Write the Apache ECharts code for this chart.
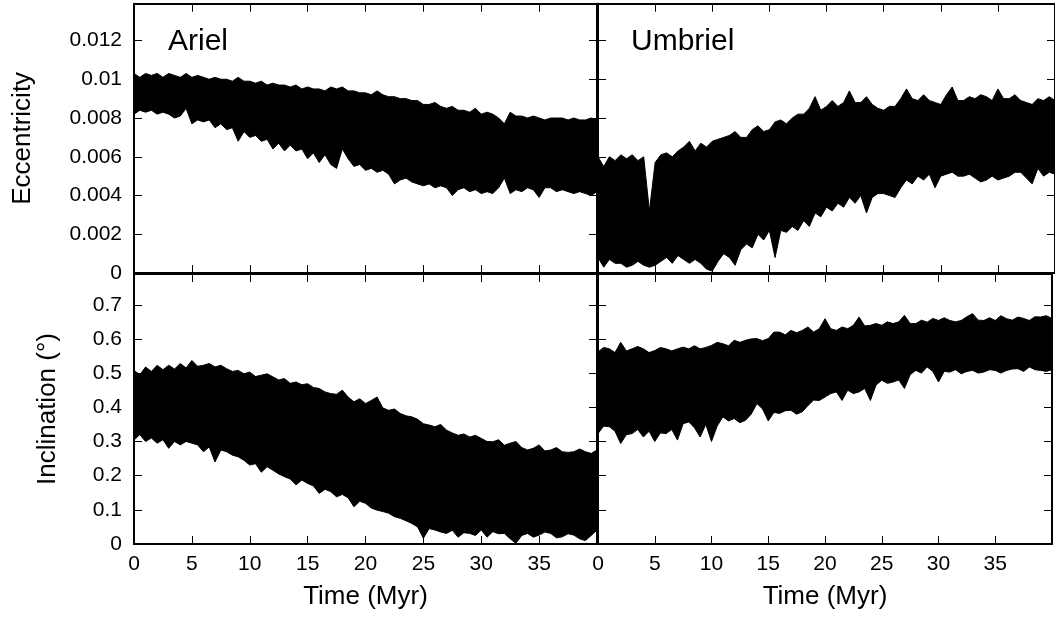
<!DOCTYPE html>
<html><head><meta charset="utf-8">
<script src="https://cdn.jsdelivr.net/npm/echarts@6/dist/echarts.min.js"></script>
<style>html,body{margin:0;padding:0;background:#fff}#c{width:1055px;height:617px}</style>
</head><body><div id="c"></div>
<script>
// Time samples (Myr)
const time = [0,0.5,1,1.5,2,2.5,3,3.5,4,4.5,5,5.5,6,6.5,7,7.5,8,8.5,9,9.5,
10,10.5,11,11.5,12,12.5,13,13.5,14,14.5,15,15.5,16,16.5,17,17.5,18,18.5,19,19.5,
20,20.5,21,21.5,22,22.5,23,23.5,24,24.5,25,25.5,26,26.5,27,27.5,28,28.5,29,29.5,
30,30.5,31,31.5,32,32.5,33,33.5,34,34.5,35,35.5,36,36.5,37,37.5,38,38.5,39,39.5,40];

// Upper / lower envelope of the oscillating signal
const arielEccHigh = [0.0103,0.0101,0.0103,0.0102,0.0103,0.0101,0.0103,0.0102,0.0101,0.0103,
0.0101,0.0102,0.0101,0.0100,0.0101,0.0100,0.0100,0.0099,0.0101,0.0099,
0.0099,0.0098,0.0099,0.0097,0.0098,0.0097,0.0097,0.0096,0.0097,0.0095,
0.0096,0.0095,0.0095,0.0094,0.0096,0.0095,0.0096,0.0094,0.0094,0.0093,
0.0093,0.0092,0.0094,0.0092,0.0091,0.0091,0.0090,0.0090,0.0089,0.0089,
0.0087,0.0087,0.0088,0.0086,0.0085,0.0086,0.0084,0.0084,0.0083,0.0085,
0.0082,0.0083,0.0082,0.0080,0.0077,0.0083,0.0081,0.0081,0.0080,0.0081,
0.0080,0.0079,0.0080,0.0080,0.0080,0.0079,0.0080,0.0079,0.0079,0.0080,0.0079];
const arielEccLow = [0.0082,0.0084,0.0083,0.0084,0.0082,0.0083,0.0082,0.0080,0.0081,0.0085,
0.0077,0.0079,0.0078,0.0079,0.0075,0.0077,0.0074,0.0075,0.0068,0.0073,
0.0070,0.0071,0.0068,0.0069,0.0064,0.0067,0.0063,0.0066,0.0063,0.0064,
0.0059,0.0062,0.0057,0.0061,0.0056,0.0054,0.0064,0.0059,0.0055,0.0056,
0.0053,0.0054,0.0052,0.0053,0.0051,0.0046,0.0048,0.0049,0.0047,0.0046,
0.0045,0.0046,0.0044,0.0045,0.0044,0.0040,0.0043,0.0044,0.0042,0.0043,
0.0041,0.0042,0.0041,0.0044,0.0049,0.0041,0.0043,0.0042,0.0044,0.0043,
0.0039,0.0044,0.0044,0.0042,0.0043,0.0042,0.0041,0.0042,0.0041,0.0040,0.0042];

const umbrielEccHigh = [0.0060,0.0055,0.0060,0.0058,0.0061,0.0059,0.0061,0.0058,0.0060,0.0032,
0.0057,0.0061,0.0062,0.0060,0.0063,0.0065,0.0068,0.0063,0.0067,0.0065,
0.0068,0.0069,0.0070,0.0071,0.0073,0.0070,0.0070,0.0074,0.0076,0.0073,
0.0074,0.0078,0.0079,0.0077,0.0080,0.0082,0.0082,0.0085,0.0091,0.0084,
0.0086,0.0089,0.0086,0.0088,0.0094,0.0088,0.0088,0.0091,0.0087,0.0085,
0.0084,0.0086,0.0086,0.0090,0.0095,0.0090,0.0089,0.0092,0.0089,0.0088,
0.0087,0.0092,0.0096,0.0089,0.0089,0.0091,0.0090,0.0092,0.0091,0.0089,
0.0095,0.0090,0.0090,0.0092,0.0089,0.0088,0.0087,0.0090,0.0089,0.0091,0.0089];
const umbrielEccLow = [0.0008,0.0003,0.0007,0.0005,0.0005,0.0003,0.0004,0.0006,0.0004,0.0003,
0.0004,0.0006,0.0008,0.0005,0.0009,0.0007,0.0005,0.0007,0.0005,0.0002,
0.0001,0.0006,0.0010,0.0008,0.0004,0.0012,0.0015,0.0013,0.0020,0.0017,
0.0022,0.0008,0.0022,0.0021,0.0024,0.0022,0.0027,0.0024,0.0031,0.0029,
0.0034,0.0032,0.0036,0.0034,0.0039,0.0036,0.0040,0.0031,0.0039,0.0041,
0.0041,0.0040,0.0039,0.0044,0.0048,0.0046,0.0050,0.0048,0.0051,0.0044,
0.0050,0.0051,0.0052,0.0050,0.0050,0.0051,0.0049,0.0047,0.0048,0.0050,
0.0048,0.0049,0.0050,0.0052,0.0052,0.0049,0.0046,0.0054,0.0050,0.0052,0.0051];

const arielIncHigh = [0.508,0.495,0.518,0.505,0.523,0.510,0.523,0.512,0.528,0.515,
0.537,0.520,0.523,0.528,0.518,0.523,0.513,0.505,0.508,0.498,
0.503,0.490,0.494,0.498,0.489,0.480,0.484,0.470,0.474,0.466,
0.469,0.458,0.455,0.445,0.440,0.438,0.450,0.430,0.416,0.425,
0.411,0.420,0.430,0.398,0.391,0.395,0.382,0.375,0.372,0.365,
0.352,0.348,0.343,0.350,0.333,0.325,0.318,0.322,0.313,0.318,
0.309,0.300,0.299,0.305,0.289,0.295,0.300,0.282,0.275,0.280,
0.290,0.272,0.275,0.282,0.270,0.268,0.270,0.278,0.270,0.265,0.275];
const arielIncLow = [0.304,0.320,0.300,0.310,0.295,0.305,0.280,0.300,0.290,0.300,
0.295,0.290,0.270,0.284,0.240,0.275,0.270,0.260,0.255,0.245,
0.231,0.235,0.210,0.226,0.216,0.205,0.197,0.190,0.173,0.187,
0.177,0.170,0.148,0.160,0.153,0.138,0.145,0.135,0.109,0.125,
0.119,0.105,0.099,0.095,0.090,0.080,0.075,0.068,0.060,0.050,
0.017,0.045,0.041,0.035,0.031,0.040,0.020,0.033,0.031,0.025,
0.041,0.020,0.036,0.030,0.031,0.015,0.002,0.025,0.031,0.020,
0.026,0.035,0.031,0.018,0.021,0.030,0.026,0.015,0.010,0.025,0.041];

const umbrielIncHigh = [0.562,0.575,0.571,0.560,0.590,0.565,0.571,0.578,0.571,0.560,
0.566,0.575,0.571,0.565,0.571,0.576,0.571,0.580,0.571,0.575,
0.581,0.590,0.586,0.580,0.596,0.590,0.596,0.600,0.601,0.595,
0.601,0.620,0.620,0.612,0.625,0.618,0.625,0.635,0.620,0.630,
0.659,0.630,0.625,0.635,0.630,0.640,0.664,0.638,0.640,0.645,
0.640,0.650,0.645,0.650,0.669,0.645,0.645,0.655,0.649,0.660,
0.654,0.662,0.654,0.650,0.654,0.665,0.674,0.655,0.654,0.662,
0.654,0.668,0.659,0.655,0.664,0.660,0.654,0.665,0.664,0.668,0.660];
const umbrielIncLow = [0.323,0.345,0.343,0.330,0.294,0.320,0.323,0.335,0.313,0.330,
0.300,0.325,0.323,0.335,0.304,0.352,0.357,0.340,0.313,0.350,
0.300,0.345,0.372,0.360,0.367,0.355,0.362,0.380,0.411,0.395,
0.360,0.385,0.382,0.390,0.391,0.380,0.387,0.405,0.421,0.420,
0.430,0.440,0.445,0.420,0.450,0.440,0.445,0.455,0.420,0.465,
0.479,0.470,0.474,0.480,0.455,0.495,0.508,0.500,0.518,0.505,
0.474,0.505,0.503,0.510,0.498,0.505,0.508,0.500,0.503,0.510,
0.508,0.500,0.508,0.512,0.513,0.505,0.518,0.510,0.508,0.505,0.510];

// Axis settings
const xMin = 0, xMax = 40, xStep = 5;
const eccMax = 0.0139, eccStep = 0.002;
const incMax = 0.79, incStep = 0.1;
const panelNames = ['Ariel', 'Umbriel'];
const xTitle = 'Time (Myr)';
const eccTitle = 'Eccentricity';
const incTitle = 'Inclination (°)';

const FONT = 'Liberation Sans, Arial, sans-serif';
const chart = echarts.init(document.getElementById('c'), null, {renderer: 'canvas'});

const grids = [
  {left: 134, top: 3.7, width: 463, height: 269.3},
  {left: 598, top: 3.7, width: 463, height: 269.3},
  {left: 134, top: 274, width: 463, height: 270},
  {left: 598, top: 274, width: 463, height: 270}
];

function isMult(v, step) { const r = v / step; return Math.abs(r - Math.round(r)) < 1e-6; }

function xAx(g, pos, labels) {
  return {
    type: 'value', gridIndex: g, position: pos, min: xMin, max: xMax, interval: xStep,
    axisLine: {show: true, onZero: false, lineStyle: {color: '#000', width: 2}},
    axisTick: {show: true, inside: true, length: 8, lineStyle: {color: '#000', width: 1}},
    axisLabel: {show: labels, margin: 10, color: '#000', fontSize: 21, fontFamily: FONT,
      formatter: v => (v >= xMax - 1e-9 ? '' : String(v))},
    splitLine: {show: false},
    name: labels ? xTitle : '', nameLocation: 'middle', nameGap: 40,
    nameTextStyle: {color: '#000', fontSize: 26, fontFamily: FONT}
  };
}
function yAx(g, pos, labels, max, step, digits, name, gap) {
  return {
    type: 'value', gridIndex: g, position: pos, min: 0, max: max, interval: step,
    axisLine: {show: true, onZero: false, lineStyle: {color: '#000', width: 2}},
    axisTick: {show: true, inside: true, length: 8, lineStyle: {color: '#000', width: 1}},
    axisLabel: {show: labels, margin: 12, color: '#000', fontSize: 21, fontFamily: FONT,
      formatter: v => (isMult(v, step) ? String(+v.toFixed(digits)) : '')},
    splitLine: {show: false},
    name: name || '', nameLocation: 'middle', nameGap: gap || 0, nameRotate: 90,
    nameTextStyle: {color: '#000', fontSize: 26, fontFamily: FONT}
  };
}

const xAxis = [], yAxis = [];
for (let g = 0; g < 4; g++) {
  const bottomRow = g >= 2, leftCol = g % 2 === 0;
  xAxis.push(xAx(g, 'bottom', bottomRow));
  xAxis.push(xAx(g, 'top', false));
  const max = bottomRow ? incMax : eccMax, step = bottomRow ? incStep : eccStep, dg = bottomRow ? 1 : 3;
  yAxis.push(yAx(g, 'left', leftCol, max, step, dg,
    leftCol ? (bottomRow ? incTitle : eccTitle) : '', bottomRow ? 73 : 98));
  yAxis.push(yAx(g, 'right', false, max, step, dg));
}

const bands = [
  [arielEccLow, arielEccHigh],
  [umbrielEccLow, umbrielEccHigh],
  [arielIncLow, arielIncHigh],
  [umbrielIncLow, umbrielIncHigh]
];

// One custom series per panel: the band between the envelopes, placed with the axes' scales
const series = bands.map(([lo, hi], g) => ({
  type: 'custom',
  xAxisIndex: 2 * g, yAxisIndex: 2 * g,
  coordinateSystem: 'cartesian2d',
  silent: true, animation: false, clip: true,
  data: time.map((t, i) => [t, lo[i], hi[i]]),
  renderItem: function (params, api) {
    if (params.dataIndex !== 0) return null;
    const upper = [], lower = [];
    for (let i = 0; i < time.length; i++) {
      upper.push(api.coord([time[i], hi[i]]));
      lower.push(api.coord([time[i], lo[i]]));
    }
    const pts = upper.concat(lower.reverse());
    const cs = params.coordSys;
    return {
      type: 'polygon',
      shape: {points: echarts.graphic.clipPointsByRect(pts, {x: cs.x, y: cs.y, width: cs.width, height: cs.height})},
      style: {fill: '#000', stroke: '#000', lineWidth: 1}
    };
  }
}));

chart.setOption({
  animation: false,
  backgroundColor: '#fff',
  title: [
    {text: panelNames[0], left: 168, top: 27, padding: 0,
      textStyle: {fontSize: 30, fontWeight: 'normal', fontFamily: FONT, color: '#000'}},
    {text: panelNames[1], left: 631, top: 27, padding: 0,
      textStyle: {fontSize: 30, fontWeight: 'normal', fontFamily: FONT, color: '#000'}}
  ],
  grid: grids,
  xAxis: xAxis,
  yAxis: yAxis,
  series: series
});
</script></body></html>
